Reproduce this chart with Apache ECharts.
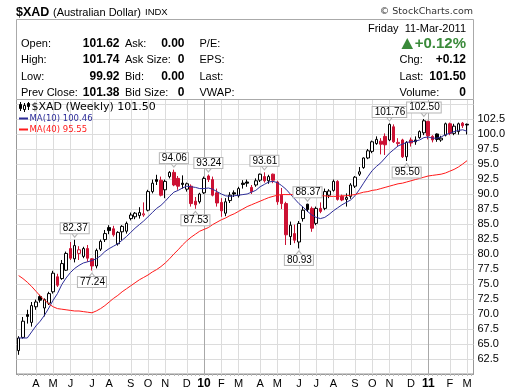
<!DOCTYPE html>
<html><head><meta charset="utf-8">
<script src="https://cdn.jsdelivr.net/npm/echarts@6/dist/echarts.min.js"></script>
<style>html,body{margin:0;padding:0;background:#fff}#c{width:520px;height:391px}</style>
</head><body><div id="c"></div>
<script>
// ---------- DATA ----------
const weeks = ['2009-03-09','2009-03-16','2009-03-23','2009-03-30','2009-04-06','2009-04-13','2009-04-20','2009-04-27','2009-05-04','2009-05-11','2009-05-18','2009-05-25','2009-06-01','2009-06-08','2009-06-15','2009-06-22','2009-06-29','2009-07-06','2009-07-13','2009-07-20','2009-07-27','2009-08-03','2009-08-10','2009-08-17','2009-08-24','2009-08-31','2009-09-07','2009-09-14','2009-09-21','2009-09-28','2009-10-05','2009-10-12','2009-10-19','2009-10-26','2009-11-02','2009-11-09','2009-11-16','2009-11-23','2009-11-30','2009-12-07','2009-12-14','2009-12-21','2009-12-28','2010-01-04','2010-01-11','2010-01-18','2010-01-25','2010-02-01','2010-02-08','2010-02-15','2010-02-22','2010-03-01','2010-03-08','2010-03-15','2010-03-22','2010-03-29','2010-04-05','2010-04-12','2010-04-19','2010-04-26','2010-05-03','2010-05-10','2010-05-17','2010-05-24','2010-05-31','2010-06-07','2010-06-14','2010-06-21','2010-06-28','2010-07-05','2010-07-12','2010-07-19','2010-07-26','2010-08-02','2010-08-09','2010-08-16','2010-08-23','2010-08-30','2010-09-06','2010-09-13','2010-09-20','2010-09-27','2010-10-04','2010-10-11','2010-10-18','2010-10-25','2010-11-01','2010-11-08','2010-11-15','2010-11-22','2010-11-29','2010-12-06','2010-12-13','2010-12-20','2010-12-27','2011-01-03','2011-01-10','2011-01-17','2011-01-24','2011-01-31','2011-02-07','2011-02-14','2011-02-21','2011-02-28','2011-03-07','2011-03-14'];

const opens = [63.9,66.1,69.9,68.6,71.2,72.9,71.0,71.8,73.7,76.2,
75.9,77.3,80.9,79.2,80.1,79.6,80.9,79.2,78.0,80.8,
82.4,84.4,84.2,81.7,83.7,83.8,85.9,86.2,86.4,86.5,
87.3,90.4,92.4,92.3,90.7,92.9,93.6,92.6,91.8,90.8,
91.3,88.8,88.7,90.2,93.0,92.4,90.2,88.6,86.8,88.9,
90.2,89.7,91.8,92.0,91.1,91.5,92.3,92.9,92.2,93.3,
92.0,89.8,88.4,82.9,83.4,82.0,85.9,88.3,87.6,85.1,
87.6,87.6,89.8,90.6,92.1,89.6,89.1,89.6,91.3,93.3,
94.4,96.0,97.1,98.4,98.8,99.6,99.0,101.2,98.4,99.0,
96.2,99.0,99.0,99.4,100.2,102.1,99.6,100.0,99.0,99.8,
101.7,100.1,100.4,101.8,101.62];

const highs = [66.3,69.5,70.7,72.0,72.4,73.2,72.6,73.7,77.2,76.7,
79.0,80.4,82.0,82.37,81.3,81.2,81.5,79.3,80.9,82.4,
84.0,84.8,84.7,83.8,84.8,85.4,86.9,87.0,87.8,88.6,
90.7,92.4,93.2,92.9,92.4,93.8,94.06,93.0,93.1,91.9,
91.6,89.5,90.2,92.9,93.24,92.9,90.9,89.3,89.3,90.3,
90.6,91.2,92.3,92.4,91.5,92.6,93.4,93.61,93.2,93.4,
92.2,91.0,88.7,85.4,84.9,85.5,87.9,88.37,87.9,87.9,
88.6,90.9,90.8,92.4,92.3,89.9,90.1,91.8,93.0,94.5,
96.1,97.5,98.9,99.6,99.3,100.1,101.76,101.6,99.3,99.2,
98.8,99.4,99.6,100.6,102.5,102.2,99.8,100.1,99.7,101.9,
101.9,101.7,101.9,102.0,101.74];

const lows = [63.2,65.9,68.4,67.9,70.7,71.9,69.6,71.5,73.4,74.5,
75.7,77.2,79.0,78.6,79.0,79.3,78.7,77.24,77.6,80.5,
82.0,83.3,82.9,81.4,82.3,83.4,85.6,85.8,85.9,86.2,
87.1,90.1,91.5,89.6,89.3,92.6,91.3,90.7,90.9,90.4,
87.9,87.53,88.4,90.0,92.0,89.6,87.9,86.2,86.3,88.5,
89.5,89.4,90.9,91.2,90.0,91.2,92.0,91.9,91.7,91.8,
88.2,87.5,81.5,81.5,81.8,80.93,85.4,87.0,83.7,84.8,
86.8,87.3,89.3,90.4,88.9,88.8,87.9,89.2,91.0,93.0,
94.2,95.8,96.8,98.2,96.6,96.5,98.8,98.5,97.9,96.0,
95.5,97.9,98.2,99.2,99.8,99.1,98.6,98.7,98.7,99.6,
99.8,99.8,99.9,101.0,99.92];

const closes = [66.0,68.8,69.6,71.4,72.0,72.3,72.4,73.4,76.8,74.8,
78.4,80.1,79.3,81.4,80.7,80.9,79.3,78.0,80.6,82.1,
83.4,83.9,83.2,83.6,84.6,85.1,86.5,86.8,86.9,86.7,
90.4,91.8,92.1,89.8,92.1,93.6,91.5,91.3,91.6,91.7,
88.4,88.2,90.0,92.6,92.4,89.8,88.5,87.2,88.7,89.8,
90.0,90.9,91.6,91.8,90.4,92.2,93.3,92.2,92.9,92.3,
88.7,88.4,83.2,84.8,82.3,85.1,87.3,87.4,84.3,87.6,
87.1,90.4,90.5,92.1,89.1,89.0,89.4,91.5,92.8,93.7,
96.0,97.2,98.7,99.1,98.3,98.2,101.6,98.7,98.6,96.2,
98.6,98.5,98.7,100.4,102.2,99.7,99.0,99.1,99.3,101.7,
100.1,101.3,101.7,101.38,101.50];

const ma10 = [66.0,66.0,66.0,67.0,68.0,68.8,69.8,71.0,72.3,73.4,
74.9,76.0,76.9,77.6,78.1,78.5,78.7,78.9,79.2,79.7,
80.4,80.9,81.3,81.7,82.3,82.9,83.6,84.3,84.9,85.5,
86.2,86.9,87.6,88.1,88.8,89.6,90.3,90.6,91.0,91.3,
91.2,91.1,90.9,90.9,91.0,90.8,90.4,90.0,89.7,89.6,
89.7,89.8,89.9,90.0,90.3,90.6,91.2,91.6,92.0,92.1,
91.9,91.4,90.8,90.0,89.2,88.4,87.8,87.1,86.5,86.1,
85.9,86.1,86.6,87.2,87.7,88.2,88.6,89.0,89.7,90.7,
91.8,92.9,93.9,94.6,95.2,96.0,96.8,97.4,98.0,98.3,
98.6,98.7,98.8,99.0,99.4,99.5,99.3,99.3,99.5,99.9,
100.1,100.4,100.6,100.7,100.46];

const ma40 = [76.4,75.9,75.3,74.6,73.8,73.0,72.3,71.7,71.2,70.9,
70.8,70.7,70.6,70.5,70.5,70.4,70.3,70.2,70.5,70.9,
71.4,72.0,72.6,73.1,73.7,74.2,74.7,75.2,75.7,76.1,
76.5,77.0,77.4,77.9,78.5,79.2,80.0,80.7,81.5,82.2,
82.8,83.3,83.8,84.1,84.4,84.9,85.3,85.7,86.0,86.4,
86.7,87.1,87.5,87.9,88.2,88.5,88.8,89.1,89.4,89.6,
89.8,89.9,89.9,89.9,89.9,89.8,89.8,89.8,89.7,89.7,
89.7,89.7,89.6,89.6,89.6,89.7,89.7,89.8,89.9,90.1,
90.3,90.4,90.6,90.7,90.9,91.1,91.3,91.5,91.7,91.8,
92.0,92.2,92.4,92.6,92.8,93.0,93.1,93.2,93.3,93.5,
93.8,94.1,94.5,95.0,95.55];

// annotated extremes: [week index, 'H' (high) or 'L' (low)]
const annotations = [[13,'H'],[17,'L'],[36,'H'],[41,'L'],[44,'H'],[57,'H'],[65,'L'],[67,'H'],[86,'H'],[90,'L'],[94,'H']];

const monthLetters = ['J','F','M','A','M','J','J','A','S','O','N','D'];
const yTickLabels = ['62.5','65.0','67.5','70.0','72.5','75.0','77.5','80.0','82.5','85.0','87.5','90.0','92.5','95.0','97.5','100.0','102.5'];

const titleSymbol = '$XAD', titleName = '(Australian Dollar)', titleExch = 'INDX';
const dateText = 'Friday  11-Mar-2011';
const changePct = '+0.12%';
const quoteRows = [
  ['Open:','101.62','Ask:','0.00','P/E:'],
  ['High:','101.74','Ask Size:','0','EPS:'],
  ['Low:','99.92','Bid:','0.00','Last:'],
  ['Prev Close:','101.38','Bid Size:','0','VWAP:']
];
const quoteRight = [null,['Chg:','+0.12'],['Last:','101.50'],['Volume:','0']];

// ---------- CHART ----------
const RED = '#cc1133', BLUE = '#2d2d99', MARED = '#ff1a1a';
const AR = '"Liberation Sans", Arial, sans-serif';
const DJ = '"DejaVu Sans", Verdana, sans-serif';

const candleData = opens.map((o, i) => {
  const c = closes[i];
  const red = i > 0 && c < closes[i - 1];
  const col = red ? RED : '#000';
  const fill = c > o ? '#fff' : col;
  return { value: [o, c, lows[i], highs[i]], itemStyle: { color: fill, color0: fill, borderColor: col, borderColor0: col, borderWidth: 1 } };
});

const monthStart = {};
weeks.forEach((w, i) => { if (i > 0 && i < closes.length && w.slice(5, 7) !== weeks[i - 1].slice(5, 7)) monthStart[i] = true; });
const gridLines = Object.keys(monthStart).map(k => {
  const w = weeks[+k];
  return { xAxis: w, lineStyle: { color: w.slice(5, 7) === '01' ? '#a8a8a8' : '#dcdcdc', width: 1, type: 'solid' } };
});

const mp = [];
annotations.forEach(([i, t]) => {
  const v = t === 'H' ? highs[i] : lows[i];
  const s = t === 'H' ? -1 : 1;
  mp.push({ coord: [weeks[i], v], symbol: 'triangle', symbolSize: [8, 5], symbolRotate: t === 'H' ? 180 : 0,
    symbolOffset: [0, s * 5], itemStyle: { color: '#fff', borderColor: '#b5b5b5', borderWidth: 1 }, label: { show: false } });
  mp.push({ coord: [weeks[i], v], symbol: 'rect', symbolSize: 1, itemStyle: { color: 'rgba(0,0,0,0)' },
    label: { show: true, position: 'inside', offset: [0, s * 11.5], formatter: v.toFixed(2), color: '#000',
      fontFamily: AR, fontSize: 10, lineHeight: 9, backgroundColor: '#fff', borderColor: '#b5b5b5', borderWidth: 1, padding: [1, 1, 0, 2] } });
});

const G = [];
function txt(x, y, t, font, fill, align) {
  G.push({ type: 'text', x: x, y: y, silent: true, z: 10,
    style: { text: t, font: font, fill: fill || '#000', align: align || 'left', verticalAlign: 'middle', textAlign: align || 'left', textVerticalAlign: 'middle' } });
}
G.push({ type: 'rect', silent: true, z: 5, shape: { x: 16.5, y: 19.5, width: 457, height: 80 }, style: { fill: '#fff', stroke: '#aaa', lineWidth: 1 } });
txt(16, 12.5, titleSymbol, 'bold 12.5px ' + AR);
txt(53, 12.5, titleName, '11px ' + AR);
txt(145, 12.5, titleExch, '9.5px ' + AR);
txt(473, 12, '\u00a9 StockCharts.com', '9.5px ' + DJ, '#333', 'right');
txt(466, 28.5, dateText, '11px ' + AR, '#000', 'right');
const rowY = [43.5, 60, 76.5, 93];
quoteRows.forEach((r, k) => {
  const y = rowY[k];
  txt(21, y, r[0], '11px ' + AR);
  txt(119.5, y, r[1], 'bold 12px ' + AR, '#000', 'right');
  txt(125, y, r[2], '11px ' + AR);
  txt(184.5, y, r[3], 'bold 12px ' + AR, '#000', 'right');
  txt(199.5, y, r[4], '11px ' + AR);
  if (quoteRight[k]) {
    txt(399.5, y, quoteRight[k][0], '11px ' + AR);
    txt(466, y, quoteRight[k][1], 'bold 12px ' + AR, '#000', 'right');
  }
});
G.push({ type: 'polygon', silent: true, z: 10, shape: { points: [[401.5, 49], [413, 49], [407.25, 38]] }, style: { fill: '#3a8a3a' } });
txt(466, 43.5, changePct, 'bold 15px ' + AR, '#3a8a3a', 'right');

// legend inside plot
function cdl(x, y1, y2, by, bh, fill) {
  G.push({ type: 'line', silent: true, z: 10, shape: { x1: x + 1.5, y1: y1, x2: x + 1.5, y2: y2 }, style: { stroke: '#000', lineWidth: 1 } });
  G.push({ type: 'rect', silent: true, z: 11, shape: { x: x + 0.5, y: by + 0.5, width: 2, height: bh }, style: { fill: fill, stroke: '#000', lineWidth: 1 } });
}
cdl(19, 102, 111, 104, 4, '#000');
cdl(23, 103, 112, 105, 4, '#fff');
cdl(27, 102, 110, 103, 3, '#000');
txt(31.5, 107.5, titleSymbol + ' (Weekly) ' + closes[closes.length - 1].toFixed(2), '11px ' + DJ);
G.push({ type: 'line', silent: true, z: 10, shape: { x1: 19, y1: 118.5, x2: 28, y2: 118.5 }, style: { stroke: BLUE, lineWidth: 2 } });
txt(29.5, 118.5, 'MA(10) ' + ma10[ma10.length - 1].toFixed(2), '8.5px ' + DJ, BLUE);
G.push({ type: 'line', silent: true, z: 10, shape: { x1: 19, y1: 129.5, x2: 28, y2: 129.5 }, style: { stroke: MARED, lineWidth: 2 } });
txt(29.5, 129.5, 'MA(40) ' + ma40[ma40.length - 1].toFixed(2), '8.5px ' + DJ, MARED);

const chart = echarts.init(document.getElementById('c'), null, { renderer: 'canvas', width: 520, height: 391 });
chart.setOption({
  animation: false,
  backgroundColor: '#fff',
  grid: { left: 16.5, right: 46.5, top: 99, bottom: 17, show: true, borderColor: '#999', borderWidth: 1, backgroundColor: '#fff' },
  xAxis: {
    type: 'category', data: weeks, boundaryGap: true,
    axisLine: { show: true, lineStyle: { color: '#999' } },
    axisTick: { show: true, interval: 0, length: 2, alignWithLabel: true, lineStyle: { color: '#bbb' } },
    axisLabel: {
      interval: 0, margin: 4, color: '#000', fontSize: 11, fontFamily: AR,
      formatter: (v, i) => {
        if (!monthStart[i]) return '';
        const m = +v.slice(5, 7);
        return m === 1 ? '{y|' + v.slice(2, 4) + '}' : monthLetters[m - 1];
      },
      rich: { y: { fontWeight: 'bold', fontSize: 12, fontFamily: AR, color: '#000' } }
    },
    splitLine: { show: false }
  },
  yAxis: {
    type: 'value', position: 'right', min: 60, max: 105.83, interval: 2.5, scale: true,
    axisLine: { show: false }, axisTick: { show: false },
    axisLabel: { margin: 4, color: '#000', fontSize: 11, fontFamily: AR,
      formatter: v => { const s = v.toFixed(1); return yTickLabels.indexOf(s) >= 0 ? s : ''; } },
    splitLine: { show: true, lineStyle: { color: '#dcdcdc', width: 1 } }
  },
  graphic: G,
  series: [
    { type: 'candlestick', name: 'XAD', data: candleData, barWidth: 3, z: 3,
      markPoint: { silent: true, animation: false, data: mp } },
    { type: 'line', name: 'MA10', data: ma10, symbol: 'none', z: 4, silent: true,
      lineStyle: { color: BLUE, width: 1 } },
    { type: 'line', name: 'MA40', data: ma40, symbol: 'none', z: 4, silent: true,
      lineStyle: { color: MARED, width: 1 },
      markLine: { silent: true, symbol: ['none', 'none'], z: 1, animation: false, label: { show: false }, data: gridLines } }
  ]
});
</script></body></html>
